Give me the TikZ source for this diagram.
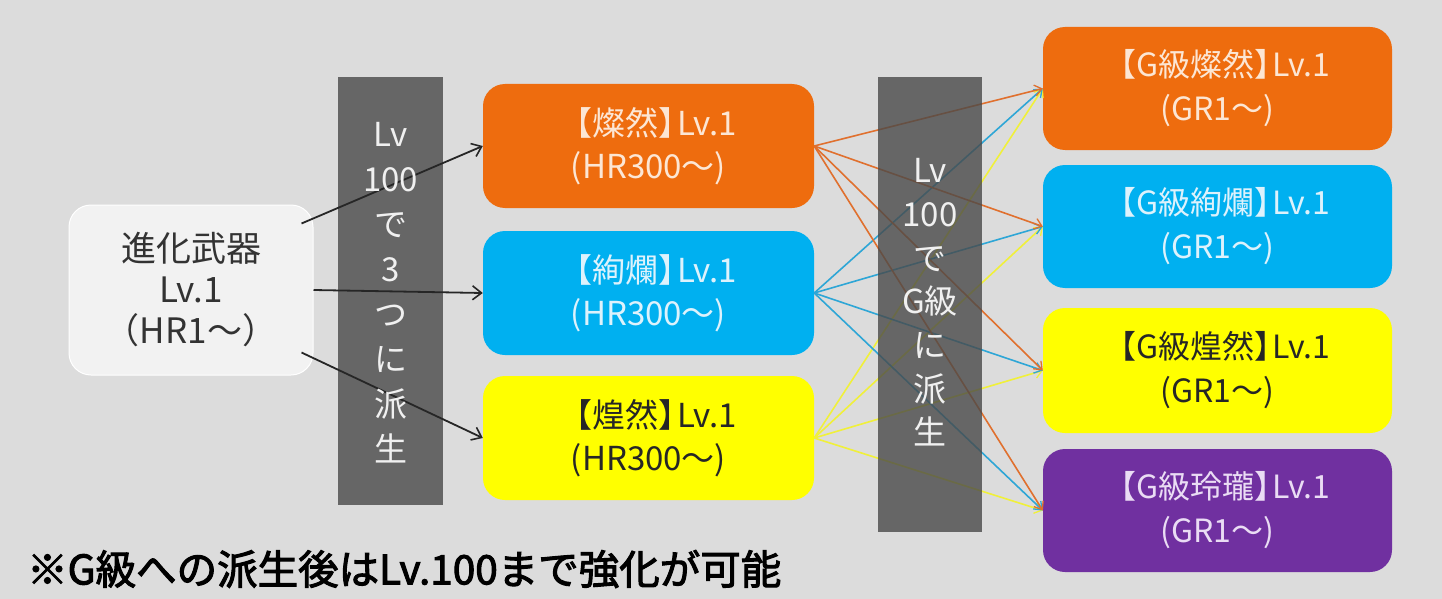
\documentclass[tikz,border=0pt]{standalone}
\usepackage{fontspec}
\setmainfont{Noto Sans CJK JP}
\newfontfamily\cjkbold[FakeBold=2.5]{Noto Sans CJK JP}
\usetikzlibrary{arrows.meta,calc}
\definecolor{bg}{HTML}{DCDCDC}
\definecolor{cOr}{HTML}{EE6C0E}
\definecolor{cBl}{HTML}{00B0F0}
\definecolor{cYe}{HTML}{FFFF00}
\definecolor{cPu}{HTML}{7030A0}
\definecolor{cBar}{HTML}{494949}
\definecolor{cWh}{HTML}{F2F2F2}
\definecolor{tOr}{HTML}{FCE6D4}
\definecolor{tBl}{HTML}{DDF2FC}
\definecolor{tPu}{HTML}{EADCF4}
\definecolor{lOr}{HTML}{E0702E}
\definecolor{lBl}{HTML}{2EA6D6}
\definecolor{lYe}{HTML}{F0F03A}
\newcommand{\rbk}{】\kern-0.45em}
\tikzset{
  box/.style={rounded corners=22pt, inner sep=0pt, align=center},
  midfont/.style={font=\fontsize{33}{43}\selectfont},
  gfont/.style={font=\fontsize{32}{44}\selectfont},
  barbox/.style={fill=cBar, inner sep=0pt, fill opacity=0.8},
  bartext/.style={text=white!94!black, align=center, inner sep=0pt},
  blk/.style={draw=black!85, line width=1.8pt, -{Straight Barb[length=9pt,width=14pt,line width=1.6pt]}},
  col/.style={line width=1.6pt, -{Straight Barb[length=7pt,width=11pt,line width=1.3pt]}},
}
\begin{document}
\begin{tikzpicture}[x=1pt,y=-1pt]
\fill[bg] (0,0) rectangle (1442,599);
\useasboundingbox (0,0) rectangle (1442,599);

% left node
\node[box, fill=cWh, draw=white, line width=1pt, minimum width=244pt, minimum height=170pt, text=black!80, font=\fontsize{35}{41}\selectfont] (L) at (191,290) {進化武器\\Lv.1\\（HR1～）};

% middle nodes
\node[box, midfont, fill=cOr, minimum width=331pt, minimum height=124pt, text=tOr] (M1) at (648.5,146) {【燦然\rbk Lv.1\\(HR300～)};
\node[box, midfont, fill=cBl, minimum width=331pt, minimum height=124pt, text=tBl] (M2) at (648.5,293) {【絢爛\rbk Lv.1\\(HR300～)};
\node[box, midfont, fill=cYe, minimum width=331pt, minimum height=124pt, text=black!85] (M3) at (648.5,438) {【煌然\rbk Lv.1\\(HR300～)};

% G nodes
\node[box, gfont, fill=cOr, minimum width=349pt, minimum height=123pt, text=tOr] (G1) at (1217.5,88.5) {【G級燦然\rbk Lv.1\\(GR1～)};
\node[box, gfont, fill=cBl, minimum width=349pt, minimum height=123pt, text=tBl] (G2) at (1217.5,226.5) {【G級絢爛\rbk Lv.1\\(GR1～)};
\node[box, gfont, fill=cYe, minimum width=349pt, minimum height=125pt, text=black!85] (G3) at (1217.5,370.5) {【G級煌然\rbk Lv.1\\(GR1～)};
\node[box, gfont, fill=cPu, minimum width=349pt, minimum height=123pt, text=tPu] (G4) at (1217.5,510.5) {【G級玲瓏\rbk Lv.1\\(GR1～)};

% colored connectors (under the second bar)
\foreach \t in {G1,G2,G3,G4}{
  \draw[col, draw=lYe] (M3.east) -- (\t.west);
}
\foreach \t in {G1,G2,G3,G4}{
  \draw[col, draw=lBl] (M2.east) -- (\t.west);
}
\foreach \t in {G1,G2,G3,G4}{
  \draw[col, draw=lOr] (M1.east) -- (\t.west);
}

% bars
\node[barbox, minimum width=105pt, minimum height=428pt] (B1) at (390.5,291) {};
\node[barbox, minimum width=104pt, minimum height=455pt] (B2) at (930,304.5) {};

% black arrows
\draw[blk] ($(L.north east)+(-12,19)$) -- (M1.west);
\draw[blk] (L.east) -- (M2.west);
\draw[blk] ($(L.south east)+(-12,-23)$) -- (M3.west);

% bar texts
\node[bartext, font=\fontsize{33}{45}\selectfont] (T1) at ($(B1.center)+(0,2)$) {Lv\\100\\で\\3\\つ\\に\\派\\生};
\node[bartext, font=\fontsize{33}{43.7}\selectfont] (T2) at ($(B2.center)+(0,-2)$) {Lv\\100\\で\\G級\\に\\派\\生};

% bottom note
\node[anchor=west, inner sep=0pt, text=black, font=\cjkbold\fontsize{40.5}{42}\selectfont] (N) at (27,569) {※G級への派生後はLv.100まで強化が可能};
\end{tikzpicture}
\end{document}
